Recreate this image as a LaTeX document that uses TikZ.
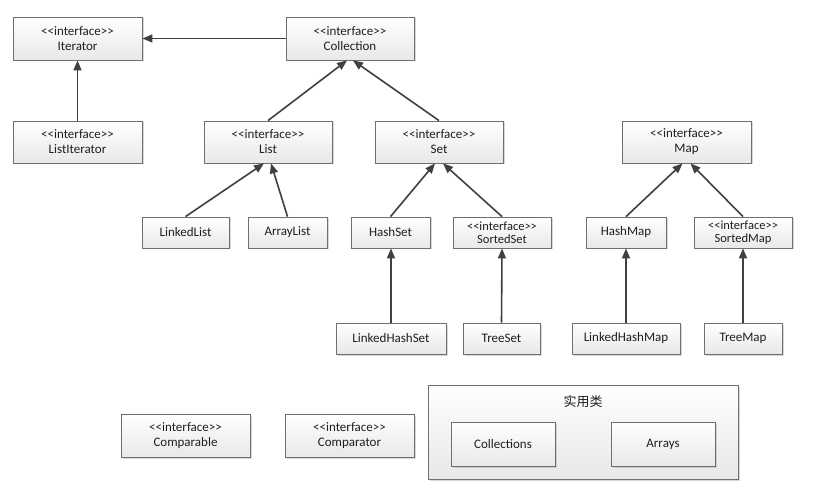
\documentclass[tikz,border=0pt]{standalone}
\usepackage{fontspec}
\setmainfont{Carlito}[Ligatures=TeXOff]
\newfontfamily\cjk{Noto Sans CJK SC}
\usetikzlibrary{arrows.meta,shadows}
\definecolor{boxline}{HTML}{6F6F6F}
\definecolor{arrowc}{HTML}{404040}
\definecolor{txt}{HTML}{1F1F1F}
\tikzset{
  umlbox/.style={draw=boxline, line width=0.8pt, top color=white, bottom color=black!9,
    drop shadow={shadow xshift=1.5pt, shadow yshift=-1.5pt, opacity=0.25, fill=black!60},
    inner sep=0pt, align=center, text=txt,
    font=\fontsize{13}{15}\selectfont},
  bigbox/.style={umlbox, minimum width=129pt, minimum height=43pt},
  smallbox/.style={umlbox, minimum height=31pt},
  inh/.style={draw=arrowc, line width=1.6pt, -{Triangle[length=10pt,width=8pt]}},
}
\begin{document}
\begin{tikzpicture}[x=1pt,y=-1pt]
\useasboundingbox[fill=white] (0,0) rectangle (838,489);
% top level
\node[bigbox] (iterator) at (77.5,38.5) {<<interface>>\\Iterator};
\node[bigbox, minimum width=128pt] (collection) at (350,38.5) {<<interface>>\\Collection};
\node[bigbox, minimum height=42pt] (listiterator) at (77.5,142) {<<interface>>\\ListIterator};
\node[bigbox, minimum width=128pt, minimum height=42pt] (list) at (268,142) {<<interface>>\\List};
\node[bigbox, minimum width=128pt, minimum height=42pt] (set) at (439,142) {<<interface>>\\Set};
\node[bigbox, minimum height=42pt] (map) at (686.5,142) {<<interface>>\\Map};
% second level
\node[smallbox, minimum width=87pt] (linkedlist) at (185.5,232.5) {LinkedList};
\node[smallbox, minimum width=79pt] (arraylist) at (287.5,232.5) {ArrayList};
\node[smallbox, minimum width=79pt] (hashset) at (390.5,232.5) {HashSet};
\node[smallbox, minimum width=98pt, font=\fontsize{12.5}{13.5}\selectfont] (sortedset) at (502,232.5) {<<interface>>\\SortedSet};
\node[smallbox, minimum width=80pt] (hashmap) at (626,232.5) {HashMap};
\node[smallbox, minimum width=98pt, font=\fontsize{12.5}{13.5}\selectfont] (sortedmap) at (743,232.5) {<<interface>>\\SortedMap};
% third level
\node[smallbox, minimum width=110pt] (linkedhashset) at (391,338.5) {LinkedHashSet};
\node[smallbox, minimum width=77pt] (treeset) at (501.5,338.5) {TreeSet};
\node[smallbox, minimum width=108pt] (linkedhashmap) at (626,338.5) {LinkedHashMap};
\node[smallbox, minimum width=78pt] (treemap) at (743,338.5) {TreeMap};
% bottom row
\node[bigbox] (comparable) at (185.5,435.5) {<<interface>>\\Comparable};
\node[bigbox] (comparator) at (349.5,435.5) {<<interface>>\\Comparator};
\node[umlbox, minimum width=310pt, minimum height=94pt] (util) at (583,432) {};
\node[text=txt, font=\cjk\fontsize{13}{15}\selectfont] (utillabel) at (583,402) {实用类};
\node[umlbox, minimum width=104pt, minimum height=44pt] (collections) at (503,444) {Collections};
\node[umlbox, minimum width=104pt, minimum height=44pt] (arrays) at (663,444) {Arrays};
% connectors
\draw[inh] (collection.west) -- (iterator.east);
\draw[inh] (listiterator.north) -- (iterator.south);
\draw[inh] (list.north) -- ([xshift=-3pt]collection.south);
\draw[inh] (set.north) -- ([xshift=3pt]collection.south);
\draw[inh] (linkedlist.north) -- ([xshift=-4pt]list.south);
\draw[inh] (arraylist.north) -- ([xshift=3pt]list.south);
\draw[inh] (hashset.north) -- ([xshift=-4pt]set.south);
\draw[inh] (sortedset.north) -- ([xshift=4pt]set.south);
\draw[inh] (hashmap.north) -- ([xshift=-4pt]map.south);
\draw[inh] (sortedmap.north) -- ([xshift=4pt]map.south);
\draw[inh] (linkedhashset.north) -- (linkedhashset.north |- hashset.south);
\draw[inh] (treeset.north) -- (sortedset.south);
\draw[inh] (linkedhashmap.north) -- (hashmap.south);
\draw[inh] (treemap.north) -- (sortedmap.south);
\end{tikzpicture}
\end{document}
